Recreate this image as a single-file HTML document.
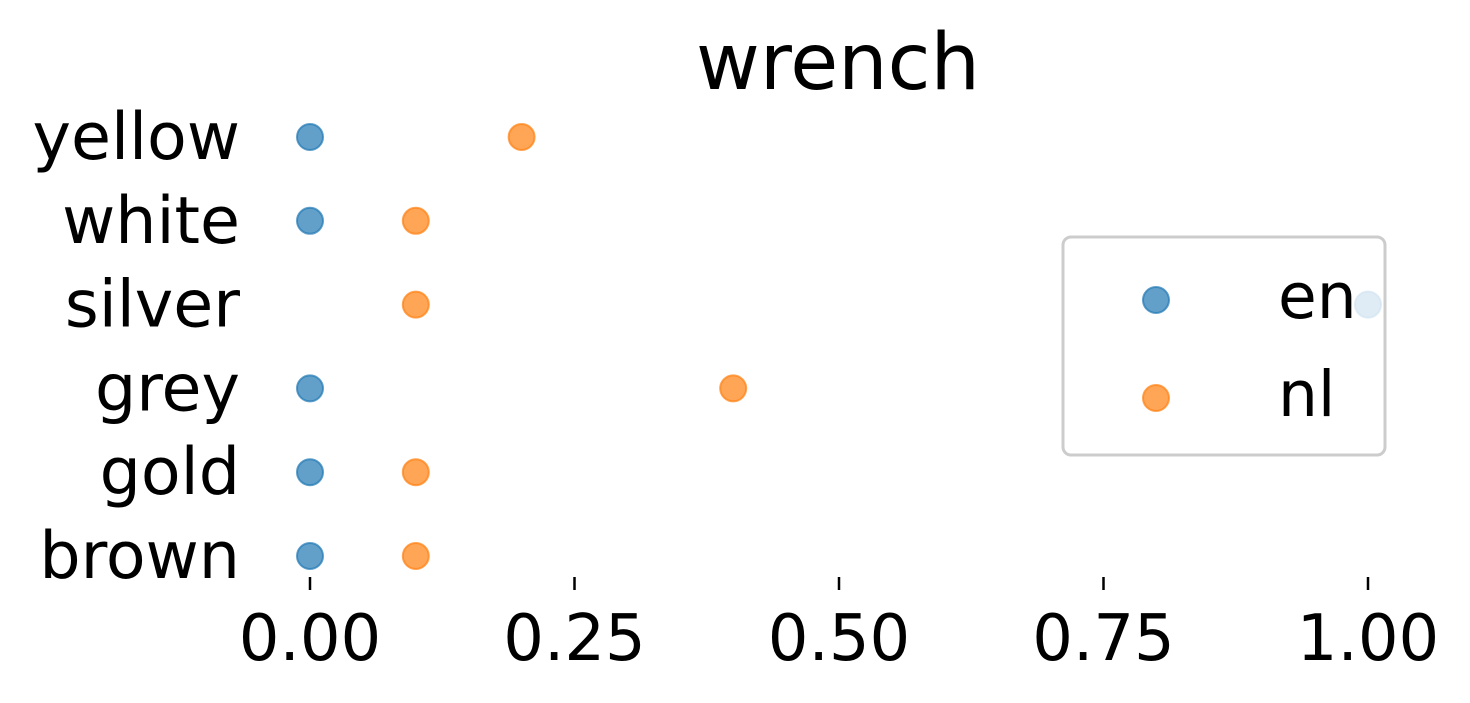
<!DOCTYPE html>
<html><head><meta charset="utf-8"><style>
html,body{margin:0;padding:0;background:#fff;}
svg{display:block;font-family:"DejaVu Sans","Liberation Sans",sans-serif;}
</style></head><body>
<svg id="chart" width="1470" height="703" viewBox="0 0 1470 703">
<text x="838" y="89" font-size="78" text-anchor="middle">wrench</text>
<g id="ylabels"></g><g id="xticks"></g><g id="points"></g>
<g>
<rect x="1063" y="237" width="322" height="218" rx="8" fill="#fff" fill-opacity="0.8" stroke="#ccc" stroke-width="3"/>
<circle cx="1156" cy="300" r="13" fill="#1f77b4" fill-opacity="0.7" stroke="#1f77b4" stroke-opacity="0.7" stroke-width="2"/>
<text x="1278" y="318" font-size="63">en</text>
<circle cx="1156" cy="398" r="13" fill="#ff7f0e" fill-opacity="0.7" stroke="#ff7f0e" stroke-opacity="0.7" stroke-width="2"/>
<text x="1278" y="416" font-size="63">nl</text>
</g>
</svg>
<script>
const categories=["yellow","white","silver","grey","gold","brown"];
const enValues=[0,0,1.0,0,0,0];
const nlValues=[0.2,0.1,0.1,0.4,0.1,0.1];
const xTicks=[0,0.25,0.5,0.75,1.0];
const xTickLabels=["0.00","0.25","0.50","0.75","1.00"];
const NS="http://www.w3.org/2000/svg";
function xs(v){return 310+v*1058;}
function ys(i){return 137+i*83.8;}
const yl=document.getElementById('ylabels'),xt=document.getElementById('xticks'),pts=document.getElementById('points');
categories.forEach((c,i)=>{
 const t=document.createElementNS(NS,'text');
 t.setAttribute('x',240);t.setAttribute('y',ys(i)+22);t.setAttribute('font-size','65');t.setAttribute('text-anchor','end');
 t.textContent=c;
 
 
 yl.appendChild(t);
});
xTicks.forEach((v,i)=>{
 const l=document.createElementNS(NS,'line');
 l.setAttribute('x1',xs(v));l.setAttribute('x2',xs(v));l.setAttribute('y1',577);l.setAttribute('y2',590);
 l.setAttribute('stroke','#000');l.setAttribute('stroke-width','2.5');
 
 
 xt.appendChild(l);
 const t=document.createElementNS(NS,'text');
 t.setAttribute('x',xs(v));t.setAttribute('y',660);t.setAttribute('font-size','64');t.setAttribute('text-anchor','middle');
 t.textContent=xTickLabels[i];
 
 
 xt.appendChild(t);
});
function series(vals,color,name){
 vals.forEach((v,i)=>{
  const c=document.createElementNS(NS,'circle');
  c.setAttribute('cx',xs(v));c.setAttribute('cy',ys(i));c.setAttribute('r',13);
  c.setAttribute('fill',color);c.setAttribute('fill-opacity','0.7');
  c.setAttribute('stroke',color);c.setAttribute('stroke-opacity','0.7');c.setAttribute('stroke-width','2');
  
  
  pts.appendChild(c);
 });
}
series(enValues,'#1f77b4','en');
series(nlValues,'#ff7f0e','nl');
</script>
</body></html>
